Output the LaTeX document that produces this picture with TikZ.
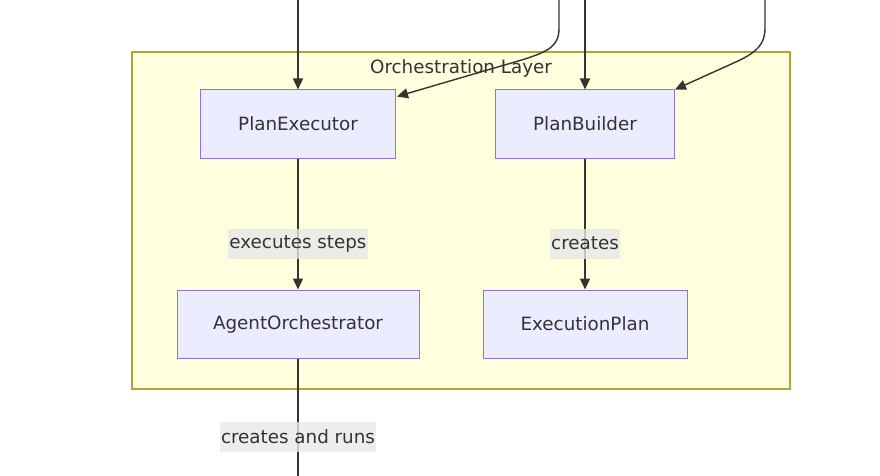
\documentclass[tikz,border=0pt]{standalone}
\usepackage{fontspec}
\setmainfont{DejaVu Sans}
\usetikzlibrary{arrows.meta,calc}
\definecolor{clfill}{HTML}{FFFFDE}
\definecolor{cldraw}{HTML}{AAAA33}
\definecolor{nfill}{HTML}{ECECFF}
\definecolor{ndraw}{HTML}{9370DB}
\definecolor{ln}{HTML}{333333}
\definecolor{lblbg}{HTML}{E8E8E8}
\definecolor{txt}{HTML}{333333}
\tikzset{
  box/.style={draw=ndraw, fill=nfill, line width=1pt, minimum height=68pt, inner sep=0pt, text=txt, font=\fontsize{18.3}{21}\selectfont},
  edge/.style={draw=ln, line width=1.4pt, -{Triangle[length=11pt,width=10pt]}},
  plain/.style={draw=ln, line width=1.4pt},
  elabel/.style={fill=lblbg, fill opacity=0.8, text opacity=1, text=txt, inner xsep=1pt, inner ysep=0pt, minimum height=30pt, font=\fontsize{18.3}{21}\selectfont},
}
\begin{document}
\begin{tikzpicture}[x=1pt,y=-1pt]
\useasboundingbox (0,0) rectangle (880,476);
\node[draw=cldraw, fill=clfill, line width=1.2pt, minimum width=658pt, minimum height=337pt, inner sep=0pt] (cluster) at (461,220.5) {};
\node[text=txt, font=\fontsize{18.3}{21}\selectfont] (title) at (461,68) {Orchestration Layer};
\node[box, minimum width=195pt] (pe) at (298,124) {PlanExecutor};
\node[box, minimum width=179pt] (pb) at (585,124) {PlanBuilder};
\node[box, minimum width=242pt] (ao) at (298,324) {AgentOrchestrator};
\node[box, minimum width=204pt] (ep) at (585,324) {ExecutionPlan};
\coordinate (in1) at (298,0);
\coordinate (in2) at (559,0);
\coordinate (in3) at (585,0);
\coordinate (in4) at (765,0);
\coordinate (out1) at (298,476);
\draw[edge] (in1) -- (pe.north);
\draw[edge] (in3) -- (pb.north);
\draw[edge] (in2) -- (559,28) .. controls (559,46) and (549,51) .. (525,59) -- ($(pe.north east)+(1,7)$);
\draw[edge] (in4) -- (765,28) .. controls (765,44) and (757,52) .. (738,61) -- ($(pb.north east)+(0,0)$);
\draw[edge] (pe.south) -- node[elabel, pos=0.65] (l1) {executes steps} (ao.north);
\draw[edge] (pb.south) -- node[elabel, pos=0.65] (l2) {creates} (ep.north);
\draw[plain] (ao.south) -- (out1);
\node[elabel] (l3) at (298,437) {creates and runs};
\end{tikzpicture}
\end{document}
